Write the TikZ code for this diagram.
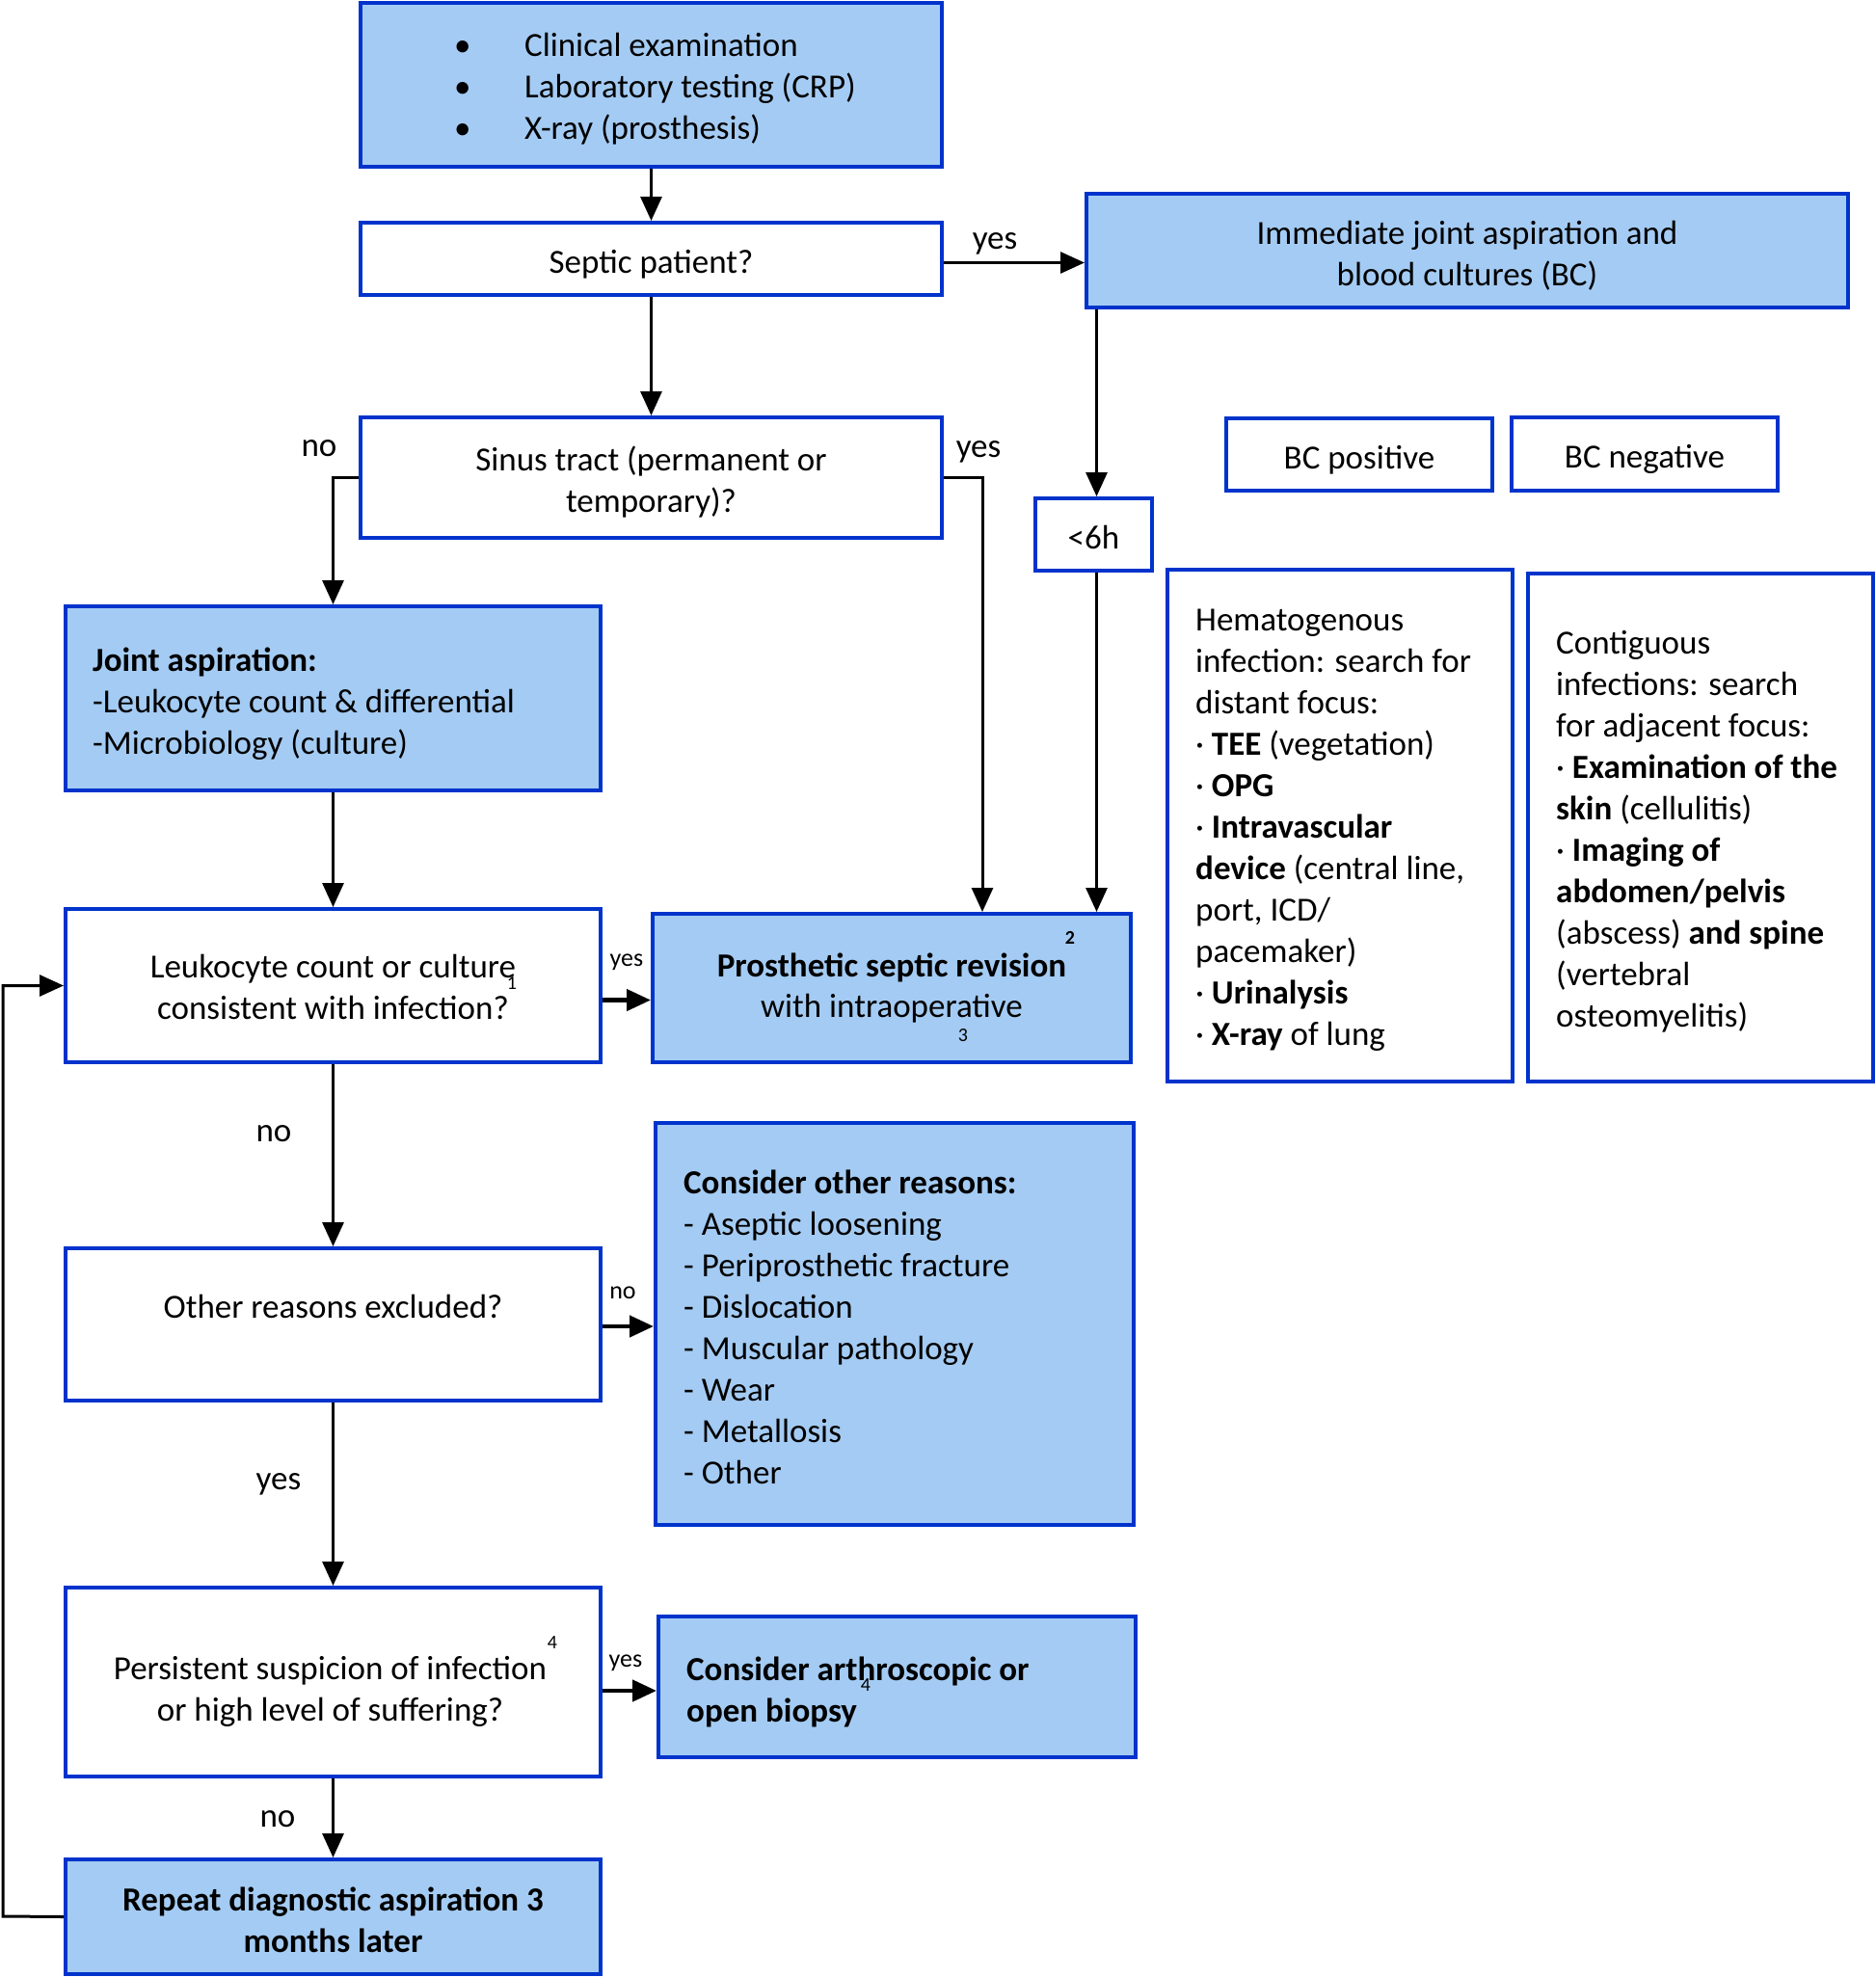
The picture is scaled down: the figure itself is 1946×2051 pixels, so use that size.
\documentclass[tikz,border=0pt]{standalone}
\usepackage{fontspec}
\setmainfont{Carlito}
\usetikzlibrary{arrows.meta}
\definecolor{bfill}{RGB}{164,203,243}
\definecolor{bline}{RGB}{0,51,204}
\begin{document}
\begin{tikzpicture}[x=1pt,y=-1pt,
  every node/.style={font=\fontsize{35pt}{43pt}\selectfont, inner sep=0pt},
  bbox/.style={draw=bline, line width=4pt, fill=bfill, rectangle},
  wbox/.style={draw=bline, line width=4pt, fill=white, rectangle},
  ctxt/.style={align=center},
  ltxt/.style={anchor=west, align=left},
  arr/.style={draw=black, line width=3pt, -{Triangle[width=22pt,length=25pt]}},
  harr/.style={arr, line width=4.5pt},
  lbl/.style={font=\fontsize{35pt}{43pt}\selectfont},
  slbl/.style={font=\fontsize{26pt}{30pt}\selectfont},
  sup/.style={font=\fontsize{20pt}{24pt}\selectfont},
  bsup/.style={font=\fontsize{20pt}{24pt}\selectfont\bfseries}]
\fill[white] (0,0) rectangle (1946,2051);
\useasboundingbox (0,0) rectangle (1946,2051);

% boxes
\node[bbox, minimum width=603pt, minimum height=170pt] (top) at (675.5,88) {};
\node[wbox, minimum width=603pt, minimum height=75pt] (septic) at (675.5,268.5) {};
\node[bbox, minimum width=790pt, minimum height=118pt] (imm) at (1522,260) {};
\node[wbox, minimum width=603pt, minimum height=125pt] (sinus) at (675.5,495.5) {};
\node[wbox, minimum width=276pt, minimum height=75pt] (bcp) at (1410,471.5) {};
\node[wbox, minimum width=276pt, minimum height=76pt] (bcn) at (1706,471) {};
\node[wbox, minimum width=121pt, minimum height=75pt] (sixh) at (1134.5,554.5) {};
\node[bbox, minimum width=555pt, minimum height=191pt] (joint) at (345.5,724.5) {};
\node[wbox, minimum width=358pt, minimum height=531pt] (hema) at (1390,856.5) {};
\node[wbox, minimum width=358pt, minimum height=527pt] (cont) at (1764,858.5) {};
\node[wbox, minimum width=555pt, minimum height=159pt] (leuk) at (345.5,1022.5) {};
\node[bbox, minimum width=496pt, minimum height=154pt] (pros) at (925,1025) {};
\node[wbox, minimum width=555pt, minimum height=158pt] (oth) at (345.5,1374) {};
\node[bbox, minimum width=496pt, minimum height=417pt] (cons) at (928,1373.5) {};
\node[wbox, minimum width=555pt, minimum height=196pt] (pers) at (345.5,1745) {};
\node[bbox, minimum width=495pt, minimum height=146pt] (arth) at (930.5,1750) {};
\node[bbox, minimum width=555pt, minimum height=119pt] (rep) at (345.5,1988.5) {};

% texts of boxes
\node[ltxt] (topT) at ([xshift=99pt,yshift=-4pt]top.west) {\makebox[73pt][l]{\textbullet}Clinical examination\\\makebox[73pt][l]{\textbullet}Laboratory testing (CRP)\\\makebox[73pt][l]{\textbullet}X-ray (prosthesis)};
\node[ctxt] (septicT) at ([yshift=-6pt]septic.center) {Septic patient?};
\node[ctxt] (immT) at ([yshift=-5pt]imm.center) {Immediate joint aspiration and\\blood cultures (BC)};
\node[ctxt] (sinusT) at ([yshift=-5pt]sinus.center) {Sinus tract (permanent or\\temporary)?};
\node[ctxt] (bcpT) at ([yshift=-6pt]bcp.center) {BC positive};
\node[ctxt] (bcnT) at ([yshift=-5pt]bcn.center) {BC negative};
\node[ctxt] (sixhT) at ([yshift=-3pt]sixh.center) {<6h};
\node[ltxt] (jointT) at ([xshift=30pt,yshift=-6pt]joint.west) {\textbf{Joint aspiration:}\\-Leukocyte count \& differential\\-Microbiology (culture)};
\node[ltxt] (hemaT) at ([xshift=31pt,yshift=-5pt]hema.west) {Hematogenous\\infection: search for\\distant focus:\\· \textbf{TEE} (vegetation)\\· \textbf{OPG}\\· \textbf{Intravascular}\\\textbf{device} (central line,\\port, ICD/\\pacemaker)\\· \textbf{Urinalysis}\\· \textbf{X-ray} of lung};
\node[ltxt] (contT) at ([xshift=31pt,yshift=-4pt]cont.west) {Contiguous\\infections: search\\for adjacent focus:\\· \textbf{Examination of the}\\\textbf{skin} (cellulitis)\\· \textbf{Imaging of}\\\textbf{abdomen/pelvis}\\(abscess) \textbf{and spine}\\(vertebral\\osteomyelitis)};
\node[ctxt] (leukT) at ([yshift=-1pt]leuk.center) {Leukocyte count or culture\\consistent with infection?};
\node[ctxt] (prosT) at (pros.center) {\textbf{Prosthetic septic revision}\\with intraoperative};
\node[ctxt] (othT) at (345.5,1355) {Other reasons excluded?};
\node[ltxt] (consT) at ([xshift=31pt,yshift=-3pt]cons.west) {\textbf{Consider other reasons:}\\- Aseptic loosening\\- Periprosthetic fracture\\- Dislocation\\- Muscular pathology\\- Wear\\- Metallosis\\- Other};
\node[ctxt] (persT) at ([xshift=-3pt,yshift=-10pt]pers.center) {Persistent suspicion of infection\\or high level of suffering?};
\node[ltxt] (arthT) at ([xshift=31pt,yshift=-5pt]arth.west) {\textbf{Consider arthroscopic or}\\\textbf{open biopsy}};
\node[ctxt] (repT) at ([yshift=-3pt]rep.center) {\textbf{Repeat diagnostic aspiration 3}\\\textbf{months later}};

% superscript marks
\node[sup] (s1) at (531,1020) {1};
\node[bsup] (s2) at (1110,973) {2};
\node[sup] (s3) at (999,1074) {3};
\node[sup] (s4a) at (573,1704) {4};
\node[sup] (s4b) at (898,1748) {4};

% connectors
\coordinate (prosIn) at ([xshift=94pt]pros.north);
\coordinate (loop) at (3,1988);
\draw[arr] (top.south) -- (septic.north);
\draw[arr] ([yshift=-4pt]septic.east) -- ([yshift=-4pt]septic.east -| imm.west);
\draw[arr] (septic.south) -- (sinus.north);
\draw[arr] (sinus.west) -| (joint.north);
\draw[arr] (sinus.east) -| (prosIn);
\draw[arr] ([xshift=3pt]sixh.north |- imm.south) -- ([xshift=3pt]sixh.north);
\draw[arr] ([xshift=3pt]sixh.south) -- ([xshift=3pt]sixh.south |- pros.north);
\draw[arr] (joint.south) -- (leuk.north);
\draw[harr] ([yshift=-15pt]leuk.east) -- ([yshift=-15pt]leuk.east -| pros.west);
\draw[arr] (leuk.south) -- (oth.north);
\draw[harr] ([yshift=-2pt]oth.east) -- ([yshift=-2pt]oth.east -| cons.west);
\draw[arr] (oth.south) -- (pers.north);
\draw[harr] ([yshift=-9pt]pers.east) -- ([yshift=-9pt]pers.east -| arth.west);
\draw[arr] (pers.south) -- (rep.north);
\draw[arr] (rep.west) -- (loop) |- (leuk.west);

% connector labels
\node[lbl] (ySep) at (1032,253) {yes};
\node[lbl] (nSin) at (331,465) {no};
\node[lbl] (ySin) at (1015,469) {yes};
\node[slbl] (yLeu) at (650,998) {yes};
\node[lbl] (nLeu) at (284,1176) {no};
\node[slbl] (nOth) at (646,1341) {no};
\node[lbl] (yOth) at (289,1540) {yes};
\node[slbl] (yPer) at (649,1725) {yes};
\node[lbl] (nPer) at (288,1887) {no};
\end{tikzpicture}
\end{document}
